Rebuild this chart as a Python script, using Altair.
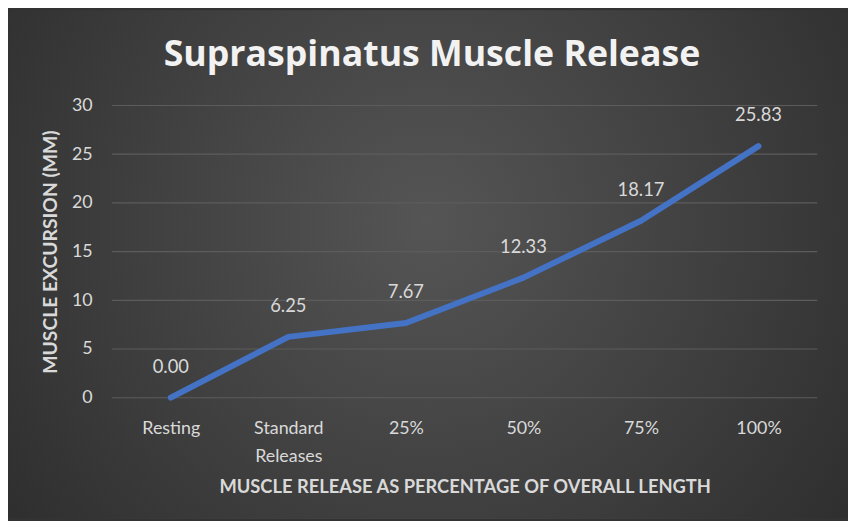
import altair as alt
import pandas as pd

title_text = ["Supraspinatus Muscle Release"]
categories = ["Resting", "Standard Releases", "25%", "50%", "75%", "100%"]
excursion = [0.00, 6.25, 7.67, 12.33, 18.17, 25.83]
y_ticks = [0, 5, 10, 15, 20, 25, 30]

df = pd.DataFrame({"cat": categories, "val": excursion})
df["label"] = [f"{v:.2f}" for v in excursion]
grid_df = pd.DataFrame({"tick": y_ticks})
title_df = pd.DataFrame({"t": title_text})

W, H = 712, 295
PL, PT, PR, PB = 105, 96, 31, 122
FONT = "Lato"
TXT = "#d9d9d9"

x_enc = alt.X("cat:N", sort=categories, scale=alt.Scale(paddingInner=0, paddingOuter=0.5),
              axis=alt.Axis(title="MUSCLE RELEASE AS PERCENTAGE OF OVERALL LENGTH",
                            labelAngle=0, labelAlign="center", domain=False, ticks=False, labelPadding=22,
                            labelFontSize=18, labelColor=TXT, labelFont=FONT,
                            labelExpr="datum.value == 'Standard Releases' ? ['Standard', 'Releases'] : datum.value",
                            labelLineHeight=28,
                            titleFontSize=18.5, titleFont=FONT, titleColor=TXT, titleFontWeight="bold",
                            titlePadding=13, grid=False, zindex=2))
y_enc = alt.Y("val:Q", scale=alt.Scale(domain=[0, 30], nice=False),
              axis=alt.Axis(title="MUSCLE EXCURSION (MM)", values=y_ticks, domain=False, ticks=False,
                            labelPadding=20, labelFontSize=18, labelColor=TXT, labelFont=FONT,
                            grid=False, zindex=2,
                            titleFontSize=19.5, titleFont=FONT, titleColor=TXT, titleFontWeight="bold",
                            titlePadding=11))

bg = alt.Chart(df).mark_rect(
    fill=alt.RadialGradient(gradient="radial", x1=0.5, y1=0.45, x2=0.5, y2=0.45, r1=0, r2=0.75,
                            stops=[alt.GradientStop(offset=0, color="#555555"),
                                   alt.GradientStop(offset=1, color="#262626")])
).encode(x=alt.value(-PL), x2=alt.value(W + PR), y=alt.value(-PT), y2=alt.value(H + PB))

grid = alt.Chart(grid_df).mark_rule(color="#5c5c5c", strokeWidth=1.2).encode(
    y=alt.Y("tick:Q", scale=alt.Scale(domain=[0, 30], nice=False)),
    x=alt.value(0), x2=alt.value(W))

line = alt.Chart(df).mark_line(color="#4472C4", strokeWidth=6, interpolate="linear",
                               strokeCap="round", strokeJoin="round").encode(x=x_enc, y=y_enc)

labels = alt.Chart(df).mark_text(dy=-31, fontSize=18.5, color=TXT, font=FONT).encode(
    x=alt.X("cat:N", sort=categories), y="val:Q", text="label:N")

title = alt.Chart(title_df).mark_text(fontSize=36, font="Open Sans", fontWeight="bold", color="#f2f2f2",
                                      baseline="alphabetic", align="center").encode(
    text="t:N", x=alt.value(W / 2 - 33), y=alt.value(-40))

chart = alt.layer(bg, grid, line, labels, title).properties(
    width=W, height=H,
    autosize=alt.AutoSizeParams(type="none"),
    padding={"left": PL, "top": PT, "right": PR, "bottom": PB},
    background="#333333",
).configure_view(stroke=None)

chart.save("out.html", embed_options={"renderer": "svg", "actions": False})
